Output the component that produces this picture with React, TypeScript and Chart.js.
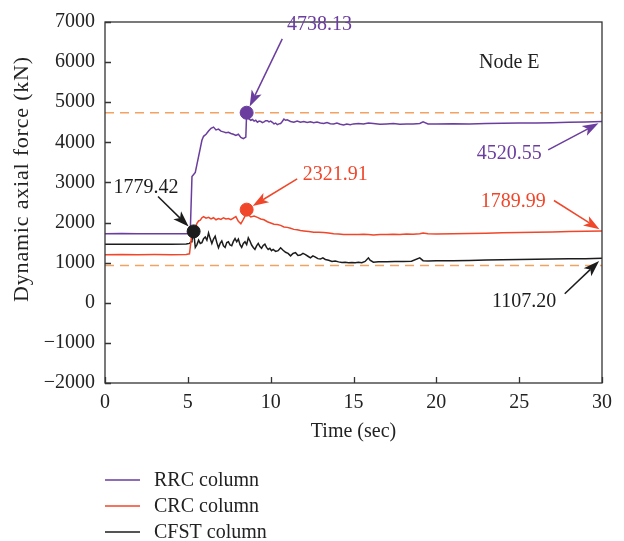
import React, { useEffect, useRef } from "react";
import { Chart, registerables } from "chart.js";

Chart.register(...registerables);

const FONT = '"Liberation Serif", "Times New Roman", serif';
const FONT_SIZE = 20;

const PURPLE = "#6a3d9e";
const RED = "#f0462a";
const BLACK = "#1c1c1c";
const ORANGE = "#f4a261";

// Time (sec) and dynamic axial force (kN) samples for each column
const rrcTime = [
  0, 1, 2, 3, 4, 4.9, 5.1, 5.15, 5.25, 5.35, 5.45, 5.55, 5.65, 5.75, 5.85, 5.95,
  6.1, 6.25, 6.4, 6.55, 6.7, 6.85, 7.0, 7.15, 7.3, 7.45, 7.6, 7.75, 7.9, 8.05,
  8.2, 8.35, 8.5, 8.55, 8.65, 8.8, 8.9, 9.0, 9.1, 9.2, 9.3, 9.4, 9.5, 9.6, 9.7,
  9.8, 9.9, 10.0, 10.1, 10.2, 10.3, 10.4, 10.5, 10.6, 10.7, 10.8, 10.9, 11.0,
  11.2, 11.4, 11.6, 11.8, 12.0, 12.2, 12.4, 12.6, 12.8, 13.0, 13.2, 13.4, 13.6,
  13.8, 14.0, 14.2, 14.4, 14.6, 14.8, 15.0, 15.3, 15.6, 15.9, 16.2, 16.6, 17.0,
  17.4, 17.8, 18.2, 18.6, 19.0, 19.2, 19.5, 20, 21, 22, 23, 24, 25, 26, 27, 28,
  29, 30,
];
const rrcForce = [
  1720, 1725, 1718, 1722, 1720, 1722, 1740, 1800, 3150, 3200, 3250, 3450, 3650,
  3850, 4050, 4150, 4200, 4280, 4350, 4380, 4310, 4330, 4280, 4260, 4240, 4250,
  4220, 4200, 4170, 4200, 4120, 4090, 4130, 4738.13, 4600, 4550, 4570, 4530,
  4550, 4500, 4530, 4520, 4490, 4510, 4540, 4540, 4510, 4530, 4500, 4460, 4480,
  4440, 4460, 4470, 4520, 4580, 4550, 4560, 4520, 4500, 4530, 4500, 4520, 4495,
  4510, 4490, 4505, 4480, 4470, 4495, 4465, 4460, 4480, 4450, 4430, 4455, 4440,
  4460, 4470, 4460, 4480, 4470, 4450, 4460, 4470, 4450, 4460, 4455, 4470, 4510,
  4460, 4455, 4465, 4460, 4470, 4475, 4480, 4485, 4490, 4500, 4510, 4520.55,
];

const crcTime = [
  0, 1, 2, 3, 4, 4.9, 5.1, 5.15, 5.25, 5.35, 5.45, 5.55, 5.65, 5.75, 5.85, 5.95,
  6.1, 6.25, 6.4, 6.55, 6.7, 6.85, 7.0, 7.15, 7.3, 7.45, 7.6, 7.75, 7.9, 8.05,
  8.2, 8.35, 8.5, 8.55, 8.65, 8.8, 9.0, 9.2, 9.4, 9.6, 9.8, 10.0, 10.2, 10.4,
  10.6, 10.8, 11.0, 11.2, 11.4, 11.6, 11.8, 12.0, 12.3, 12.6, 12.9, 13.2, 13.5,
  13.8, 14.1, 14.4, 14.7, 15.0, 15.3, 15.6, 15.9, 16.2, 16.6, 17.0, 17.4, 17.8,
  18.2, 18.6, 19.0, 19.2, 19.5, 20, 21, 22, 23, 24, 25, 26, 27, 28, 29, 30,
];
const crcForce = [
  1200, 1205, 1198, 1202, 1200, 1205, 1220, 1400, 1750, 1900, 1880, 1980, 2040,
  2060, 2120, 2150, 2110, 2130, 2090, 2120, 2070, 2100, 2080, 2120, 2090, 2100,
  2070, 2110, 2150, 2030, 1970, 2080, 2200, 2321.91, 2200, 2140, 2160, 2130,
  2090, 2070, 2020, 1990, 1960, 1950, 1930, 1890, 1880, 1860, 1830, 1820, 1800,
  1790, 1775, 1760, 1760, 1750, 1740, 1720, 1715, 1700, 1705, 1700, 1705, 1710,
  1700, 1690, 1705, 1700, 1710, 1705, 1715, 1710, 1720, 1740, 1720, 1715, 1720,
  1725, 1735, 1745, 1750, 1760, 1765, 1775, 1782, 1789.99,
];

const cfstTime = [
  0, 1, 2, 3, 4, 4.9, 5.1, 5.2, 5.25, 5.35, 5.45, 5.55, 5.65, 5.75, 5.85, 5.95,
  6.05, 6.15, 6.25, 6.35, 6.45, 6.55, 6.65, 6.75, 6.85, 6.95, 7.05, 7.15, 7.25,
  7.35, 7.45, 7.55, 7.65, 7.75, 7.85, 7.95, 8.05, 8.15, 8.25, 8.35, 8.45, 8.55,
  8.65, 8.75, 8.85, 8.95, 9.05, 9.15, 9.25, 9.35, 9.45, 9.55, 9.65, 9.75, 9.85,
  9.95, 10.05, 10.15, 10.3, 10.45, 10.6, 10.75, 10.9, 11.05, 11.2, 11.35, 11.5,
  11.65, 11.8, 11.95, 12.1, 12.25, 12.4, 12.55, 12.7, 12.85, 13.0, 13.15, 13.3,
  13.5, 13.7, 13.9, 14.1, 14.3, 14.5, 14.7, 14.9, 15.1, 15.3, 15.5, 15.7, 15.9,
  16.0, 16.2, 16.5, 17, 17.5, 18, 18.5, 19.0, 19.2, 19.5, 20, 21, 22, 23, 24,
  25, 26, 27, 28, 29, 30,
];
const cfstForce = [
  1460, 1462, 1458, 1460, 1462, 1465, 1480, 1520, 1550, 1779.42, 1380, 1450,
  1560, 1480, 1500, 1600, 1640, 1560, 1740, 1600, 1480, 1590, 1660, 1500, 1370,
  1480, 1540, 1420, 1380, 1500, 1520, 1440, 1420, 1530, 1600, 1520, 1590, 1450,
  1380, 1480, 1520, 1450, 1620, 1540, 1440, 1380, 1330, 1420, 1480, 1400, 1360,
  1430, 1460, 1380, 1330, 1360, 1300, 1330, 1280, 1300, 1370, 1310, 1260, 1230,
  1170, 1230, 1250, 1180, 1190, 1230, 1200, 1160, 1120, 1170, 1140, 1100, 1090,
  1120, 1080, 1060, 1030, 1040, 1020, 1005, 1010, 1000, 1005, 1000, 1010, 1000,
  1030, 1120, 1060, 1010, 1020, 1025, 1030, 1030, 1035, 1120, 1050, 1040, 1045,
  1050, 1055, 1065, 1070, 1080, 1085, 1090, 1095, 1100, 1107.2,
];

// Horizontal dashed reference levels (kN)
const refLevels = [4738.13, 930];

// Marked peaks
const peakTimes = { rrc: 8.55, crc: 8.55, cfst: 5.35 };
const peakForces = { rrc: 4738.13, crc: 2321.91, cfst: 1779.42 };

const xTicks = [0, 5, 10, 15, 20, 25, 30];
const yTicks = [-2000, -1000, 0, 1000, 2000, 3000, 4000, 5000, 6000, 7000];

const seriesNames = ["RRC column", "CRC column", "CFST column"];
const seriesColors = [PURPLE, RED, BLACK];

// Callouts: label text anchored in axis units, arrow pointing at a data point
type Callout = {
  text: string;
  color: string;
  labelAt: [number, number];
  tailAt: [number, number];
  target: [number, number];
  gap: number;
};
const callouts: Callout[] = [
  { text: "4738.13", color: PURPLE, labelAt: [12.95, 6930], tailAt: [10.7, 6580], target: [peakTimes.rrc, peakForces.rrc], gap: 7 },
  { text: "2321.91", color: RED, labelAt: [13.9, 3200], tailAt: [11.6, 3090], target: [peakTimes.crc, peakForces.crc], gap: 7 },
  { text: "1779.42", color: BLACK, labelAt: [2.47, 2870], tailAt: [3.2, 2650], target: [peakTimes.cfst, peakForces.cfst], gap: 7 },
  { text: "4520.55", color: PURPLE, labelAt: [24.4, 3720], tailAt: [26.75, 3810], target: [30, 4520.55], gap: 4 },
  { text: "1789.99", color: RED, labelAt: [24.65, 2525], tailAt: [27.1, 2550], target: [30, 1789.99], gap: 3 },
  { text: "1107.20", color: BLACK, labelAt: [25.3, 25], tailAt: [27.75, 225], target: [30, 1107.2], gap: 4 },
];

const toPoints = (t: number[], v: number[]) => t.map((x, i) => ({ x, y: v[i] }));

function drawArrow(ctx: CanvasRenderingContext2D, x1: number, y1: number, x2: number, y2: number, color: string) {
  const ang = Math.atan2(y2 - y1, x2 - x1);
  const headLen = 16;
  const headHalf = 5.5;
  const bx = x2 - headLen * Math.cos(ang);
  const by = y2 - headLen * Math.sin(ang);
  ctx.save();
  ctx.strokeStyle = color;
  ctx.fillStyle = color;
  ctx.lineWidth = 1.5;
  ctx.beginPath();
  ctx.moveTo(x1, y1);
  ctx.lineTo(bx + 4 * Math.cos(ang), by + 4 * Math.sin(ang));
  ctx.stroke();
  ctx.beginPath();
  ctx.moveTo(x2, y2);
  ctx.lineTo(bx + headHalf * Math.sin(ang), by - headHalf * Math.cos(ang));
  ctx.lineTo(bx + 4 * Math.cos(ang), by + 4 * Math.sin(ang));
  ctx.lineTo(bx - headHalf * Math.sin(ang), by + headHalf * Math.cos(ang));
  ctx.closePath();
  ctx.fill();
  ctx.restore();
}

const decorPlugin = {
  id: "decor",
  afterDraw(chart: any) {
    const { ctx, chartArea } = chart;
    const xs = chart.scales.x;
    const ys = chart.scales.y;
    const { left, right, top, bottom } = chartArea;
    ctx.save();

    // frame and inward tick marks
    ctx.strokeStyle = "#333";
    ctx.lineWidth = 1.3;
    ctx.strokeRect(left, top, right - left, bottom - top);
    ctx.beginPath();
    yTicks.forEach((v) => {
      const py = Math.round(ys.getPixelForValue(v)) + 0.5;
      ctx.moveTo(left, py);
      ctx.lineTo(left + 6, py);
    });
    xTicks.forEach((v) => {
      const px = Math.round(xs.getPixelForValue(v)) + 0.5;
      ctx.moveTo(px, bottom);
      ctx.lineTo(px, bottom - 6);
    });
    ctx.stroke();

    ctx.font = `${FONT_SIZE}px ${FONT}`;
    ctx.textBaseline = "middle";

    // callouts
    callouts.forEach((c) => {
      const lx = xs.getPixelForValue(c.labelAt[0]);
      const ly = ys.getPixelForValue(c.labelAt[1]);
      const tx = xs.getPixelForValue(c.tailAt[0]);
      const ty = ys.getPixelForValue(c.tailAt[1]);
      const px = xs.getPixelForValue(c.target[0]);
      const py = ys.getPixelForValue(c.target[1]);
      const d = Math.hypot(px - tx, py - ty);
      const ex = px - ((px - tx) / d) * c.gap;
      const ey = py - ((py - ty) / d) * c.gap;
      drawArrow(ctx, tx, ty, ex, ey, c.color);
      ctx.fillStyle = c.color;
      ctx.textAlign = "center";
      ctx.fillText(c.text, lx, ly);
    });

    // panel label
    ctx.fillStyle = "#222";
    ctx.textAlign = "center";
    ctx.fillText("Node E", xs.getPixelForValue(24.4), ys.getPixelForValue(5985));

    // axis titles
    ctx.fillText("Time (sec)", (left + right) / 2, 432);
    ctx.save();
    ctx.translate(22, 179);
    ctx.rotate(-Math.PI / 2);
    ctx.font = `22px ${FONT}`;
    (ctx as any).letterSpacing = "0.8px";
    ctx.fillText("Dynamic axial force (kN)", 0, 0);
    ctx.restore();

    // legend
    const rows = [480, 506, 532];
    seriesNames.forEach((name, i) => {
      ctx.strokeStyle = seriesColors[i];
      ctx.lineWidth = 1.5;
      ctx.beginPath();
      ctx.moveTo(105, rows[i]);
      ctx.lineTo(140, rows[i]);
      ctx.stroke();
      ctx.fillStyle = "#222";
      ctx.textAlign = "left";
      ctx.fillText(name, 154, rows[i] + 1);
    });
    ctx.restore();
  },
};

export default function App() {
  const canvasRef = useRef<HTMLCanvasElement | null>(null);

  useEffect(() => {
    const canvas = canvasRef.current;
    if (!canvas) return;

    const lineSet = (label: string, t: number[], v: number[], color: string) => ({
      type: "line" as const,
      label,
      data: toPoints(t, v),
      borderColor: color,
      borderWidth: 1.5,
      pointRadius: 0,
      tension: 0,
    });
    const refSet = (level: number) => ({
      type: "line" as const,
      label: "ref",
      data: toPoints([0, 30], [level, level]),
      borderColor: ORANGE,
      borderWidth: 1.6,
      borderDash: [9, 6],
      pointRadius: 0,
    });
    const dotSet = (t: number, v: number, color: string) => ({
      type: "scatter" as const,
      label: "peak",
      data: [{ x: t, y: v }],
      backgroundColor: color,
      borderColor: color,
      pointRadius: 6.5,
      showLine: false,
    });

    // earlier datasets are painted on top
    const chart = new Chart(canvas, {
      type: "line",
      data: {
        datasets: [
          dotSet(peakTimes.rrc, peakForces.rrc, PURPLE),
          dotSet(peakTimes.crc, peakForces.crc, RED),
          dotSet(peakTimes.cfst, peakForces.cfst, BLACK),
          lineSet(seriesNames[0], rrcTime, rrcForce, PURPLE),
          lineSet(seriesNames[1], crcTime, crcForce, RED),
          lineSet(seriesNames[2], cfstTime, cfstForce, BLACK),
          refSet(refLevels[0]),
          refSet(refLevels[1]),
        ] as any,
      },
      options: {
        responsive: false,
        animation: false,
        layout: { padding: { top: 19, right: 22, left: 0, bottom: 0 } },
        plugins: { legend: { display: false }, tooltip: { enabled: false } },
        scales: {
          x: {
            type: "linear",
            min: 0,
            max: 30,
            afterFit: (s: any) => { s.height = 158; },
            afterBuildTicks: (s: any) => { s.ticks = xTicks.map((value) => ({ value })); },
            grid: { display: false, drawTicks: false },
            border: { display: false },
            ticks: { padding: 8, color: "#222", font: { family: FONT, size: FONT_SIZE } },
          },
          y: {
            type: "linear",
            min: -2000,
            max: 7000,
            afterFit: (s: any) => { s.width = 105; },
            afterBuildTicks: (s: any) => { s.ticks = yTicks.map((value) => ({ value })); },
            grid: { display: false, drawTicks: false },
            border: { display: false },
            ticks: {
              padding: 10,
              color: "#222",
              font: { family: FONT, size: FONT_SIZE },
              callback: (v: any) => (Number(v) < 0 ? "\u2212" + Math.abs(Number(v)) : String(v)),
            },
          },
        },
      },
      plugins: [decorPlugin],
    });
    return () => chart.destroy();
  }, []);

  return (
    <div style={{ position: "fixed", left: 0, top: 0, width: 624, height: 541, background: "#fff" }}>
      <canvas ref={canvasRef} width={624} height={541} style={{ width: 624, height: 541 }} />
    </div>
  );
}
